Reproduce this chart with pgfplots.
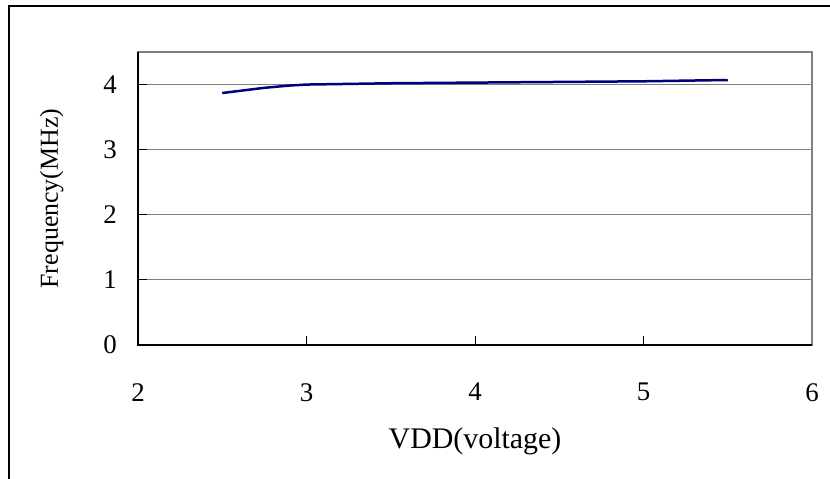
\documentclass[border=0pt]{standalone}
\usepackage{fontspec}
\setmainfont{Liberation Serif}
\usepackage{pgfplots}
\pgfplotsset{compat=1.18}
\definecolor{navyline}{RGB}{0,0,128}
\definecolor{gridgray}{RGB}{128,128,128}
\begin{document}
\begin{tikzpicture}[x=1bp,y=1bp]
\useasboundingbox (-138bp,-134bp) rectangle (692bp,345bp);
\begin{scope}
\clip (-138bp,-134bp) rectangle (692bp,345bp);
\draw[line width=1.2bp] (-129bp,-150bp) -- (-129bp,339bp) -- (720bp,339bp);
\end{scope}
\begin{axis}[
    scale only axis,
    width=674bp, height=293bp,
    at={(0,0)}, anchor=origin,
    xmin=2, xmax=6, ymin=0, ymax=4.5,
    xtick={2,3,4,5,6}, ytick={0,1,2,3,4},
    ymajorgrids, xmajorgrids=false,
    major grid style={gridgray, line width=1bp},
    axis line style={gridgray, line width=1.5bp},
    tick align=inside,
    major tick length=9bp,
    tick style={black, line width=1bp},
    xtick pos=bottom, ytick pos=left,
    /pgf/number format/assume math mode=true,
    ticklabel style={font=\fontsize{27}{29}\selectfont},
    xticklabel style={anchor=north, inner sep=0pt, yshift=-38bp},
    yticklabel style={anchor=east, inner sep=0pt, xshift=-21bp},
    every axis x label/.style={at={(axis description cs:0.5,0)}, anchor=base, yshift=-103bp, font=\fontsize{30}{32}\selectfont},
    every axis y label/.style={at={(axis description cs:0,0.5)}, rotate=90, anchor=base, yshift=80bp, font=\fontsize{26}{28}\selectfont},
    xlabel={VDD(voltage)},
    ylabel={Frequency(MHz)},
    clip=false,
]
\addplot[navyline, line width=2.5bp, mark=none] coordinates {
    (2.5,3.87) (2.75,3.95) (2.9,3.985) (3.0,4.0) (3.5,4.02) (4.0,4.03) (4.5,4.04) (5.0,4.05) (5.5,4.07)
};
\draw[black, line width=1.5bp] (rel axis cs:0,1) -- (rel axis cs:0,0) -- (rel axis cs:1,0);
\end{axis}
\end{tikzpicture}
\end{document}
